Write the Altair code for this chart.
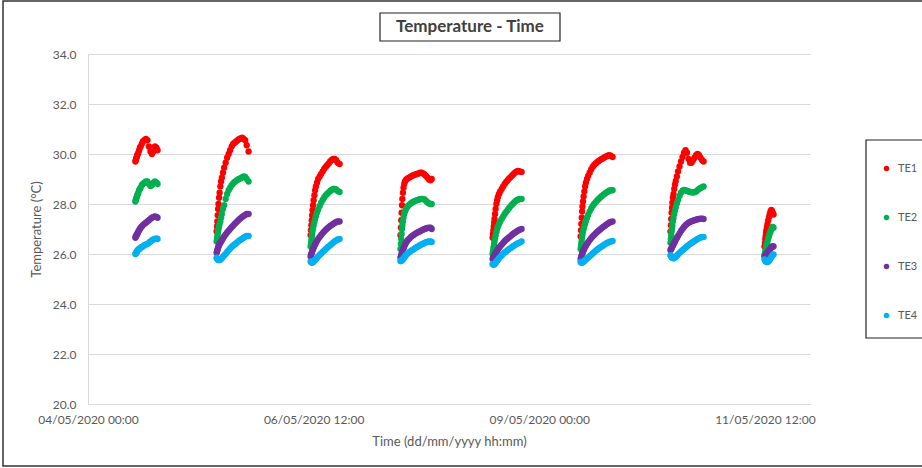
import altair as alt
import pandas as pd

# ---------------- data (hours since 04/05/2020 00:00) ----------------
HOURS = [
    12.6,12.7,12.8,12.9,13.0,13.1,13.25,13.4,13.6,13.8,14.0,14.3,14.6,15.0,15.4,15.8,16.2,16.6,17.0,17.4,17.8,18.2,18.5,
    34.2,34.3,34.4,34.5,34.6,34.7,34.85,35.0,35.2,35.4,35.6,35.9,36.2,36.6,37.0,37.4,37.8,38.2,38.6,39.0,39.4,39.8,40.2,40.6,41.0,41.4,41.8,42.2,42.7,
    59.2,59.3,59.4,59.5,59.6,59.7,59.85,60.0,60.2,60.4,60.6,60.9,61.2,61.6,62.0,62.4,62.8,63.2,63.6,64.0,64.4,64.8,65.2,65.6,66.0,66.4,66.9,
    83.1,83.2,83.3,83.4,83.5,83.6,83.75,83.9,84.1,84.3,84.5,84.8,85.1,85.5,85.9,86.3,86.7,87.1,87.5,87.9,88.3,88.7,89.1,89.5,89.9,90.3,90.7,91.1,91.4,
    107.6,107.7,107.8,107.9,108.0,108.1,108.25,108.4,108.6,108.8,109.0,109.3,109.6,110.0,110.4,110.8,111.2,111.6,112.0,112.4,112.8,113.2,113.6,114.0,114.4,114.8,115.3,
    131.0,131.1,131.2,131.3,131.4,131.5,131.65,131.8,132.0,132.2,132.4,132.7,133.0,133.4,133.8,134.2,134.6,135.0,135.4,135.8,136.2,136.6,137.0,137.4,137.8,138.2,138.6,139.0,139.5,
    154.9,155.0,155.1,155.2,155.3,155.4,155.55,155.7,155.9,156.1,156.3,156.6,156.9,157.3,157.7,158.1,158.5,158.9,159.3,159.7,160.1,160.5,160.9,161.3,161.7,162.1,162.5,162.9,163.3,163.7,
    179.9,180.0,180.1,180.2,180.3,180.4,180.55,180.7,180.9,181.1,181.3,181.5,181.7,181.9,182.1,182.3,
]

TE1 = [
    29.7,29.75,29.8,29.85,29.9,29.95,30.0,30.05,30.15,30.25,30.3,30.4,30.5,30.55,30.6,30.55,30.3,30.1,30.0,30.1,30.3,30.25,30.15,
    26.9,27.1,27.3,27.55,27.8,28.0,28.25,28.45,28.7,28.9,29.05,29.25,29.45,29.65,29.85,30.0,30.15,30.3,30.4,30.45,30.5,30.55,30.6,30.62,30.65,30.6,30.55,30.35,30.1,
    26.75,26.95,27.15,27.35,27.55,27.75,27.95,28.15,28.35,28.55,28.7,28.85,29.0,29.1,29.2,29.3,29.4,29.48,29.55,29.62,29.7,29.76,29.8,29.8,29.75,29.65,29.6,
    26.75,27.05,27.35,27.65,27.95,28.2,28.45,28.65,28.8,28.9,28.95,29.0,29.03,29.06,29.1,29.13,29.16,29.18,29.2,29.22,29.25,29.25,29.22,29.18,29.12,29.05,28.98,28.95,29.0,
    26.65,26.8,26.95,27.1,27.25,27.4,27.6,27.8,28.0,28.15,28.28,28.4,28.5,28.6,28.7,28.8,28.88,28.95,29.02,29.08,29.14,29.2,29.26,29.3,29.32,29.3,29.28,
    26.7,26.95,27.2,27.45,27.7,27.9,28.1,28.3,28.5,28.7,28.85,29.0,29.12,29.25,29.38,29.48,29.56,29.62,29.67,29.72,29.76,29.8,29.83,29.87,29.9,29.93,29.95,29.93,29.88,
    26.9,27.15,27.4,27.65,27.85,28.05,28.25,28.4,28.6,28.78,28.92,29.1,29.3,29.5,29.7,29.88,30.05,30.15,30.05,29.8,29.65,29.65,29.75,29.85,29.95,30.0,29.95,29.85,29.75,29.7,
    26.3,26.45,26.6,26.72,26.84,26.95,27.08,27.2,27.35,27.48,27.6,27.7,27.76,27.72,27.65,27.58,
]

TE2 = [
    28.1,28.15,28.2,28.25,28.3,28.35,28.4,28.45,28.55,28.6,28.65,28.75,28.8,28.85,28.9,28.9,28.8,28.72,28.75,28.85,28.9,28.85,28.8,
    26.5,26.6,26.7,26.8,26.9,27.0,27.1,27.2,27.3,27.45,27.6,27.8,27.95,28.2,28.4,28.55,28.65,28.75,28.82,28.88,28.93,28.97,29.0,29.03,29.07,29.1,29.08,29.0,28.9,
    26.3,26.42,26.54,26.66,26.78,26.9,27.02,27.14,27.27,27.4,27.52,27.66,27.78,27.92,28.05,28.16,28.26,28.34,28.4,28.46,28.52,28.56,28.6,28.6,28.58,28.52,28.48,
    26.2,26.4,26.6,26.8,27.0,27.15,27.3,27.45,27.6,27.7,27.78,27.86,27.92,27.98,28.03,28.07,28.1,28.13,28.15,28.17,28.19,28.2,28.2,28.18,28.12,28.06,28.02,28.0,28.0,
    26.0,26.1,26.2,26.3,26.4,26.5,26.62,26.74,26.88,27.0,27.1,27.2,27.3,27.4,27.5,27.6,27.68,27.76,27.84,27.92,27.98,28.04,28.1,28.15,28.18,28.2,28.2,
    26.2,26.32,26.44,26.56,26.68,26.78,26.9,27.0,27.12,27.22,27.32,27.45,27.56,27.7,27.82,27.92,28.0,28.07,28.14,28.2,28.26,28.31,28.36,28.41,28.45,28.49,28.53,28.55,28.55,
    26.45,26.6,26.75,26.9,27.02,27.14,27.3,27.44,27.6,27.74,27.86,28.02,28.16,28.32,28.45,28.53,28.56,28.55,28.52,28.5,28.48,28.47,28.46,28.47,28.5,28.55,28.6,28.64,28.67,28.7,
    25.95,26.02,26.1,26.18,26.25,26.32,26.42,26.5,26.62,26.72,26.82,26.9,26.98,27.04,27.08,27.05,
]

TE3 = [
    26.65,26.7,26.72,26.75,26.78,26.8,26.85,26.9,26.95,27.0,27.05,27.1,27.15,27.2,27.25,27.3,27.35,27.4,27.45,27.48,27.5,27.48,27.45,
    26.05,26.1,26.15,26.2,26.25,26.3,26.35,26.4,26.45,26.5,26.55,26.62,26.7,26.78,26.86,26.93,27.0,27.07,27.13,27.2,27.26,27.32,27.38,27.43,27.48,27.52,27.56,27.6,27.6,
    25.9,25.95,26.0,26.05,26.1,26.14,26.2,26.25,26.32,26.38,26.44,26.52,26.6,26.68,26.76,26.83,26.9,26.96,27.02,27.07,27.12,27.16,27.2,27.24,27.28,27.3,27.3,
    25.85,25.9,25.95,26.0,26.05,26.1,26.16,26.22,26.3,26.37,26.43,26.5,26.56,26.62,26.68,26.73,26.77,26.81,26.85,26.88,26.91,26.94,26.97,27.0,27.02,27.04,27.05,27.05,27.0,
    25.8,25.83,25.86,25.89,25.92,25.95,25.99,26.03,26.08,26.13,26.18,26.24,26.3,26.37,26.44,26.51,26.57,26.62,26.67,26.72,26.77,26.82,26.86,26.9,26.94,26.97,27.0,
    25.8,25.85,25.9,25.95,26.0,26.04,26.1,26.15,26.22,26.28,26.33,26.4,26.47,26.55,26.63,26.7,26.76,26.82,26.88,26.93,26.98,27.03,27.08,27.12,27.17,27.21,27.25,27.28,27.3,
    26.15,26.18,26.21,26.24,26.27,26.3,26.34,26.38,26.44,26.5,26.56,26.64,26.72,26.82,26.92,27.0,27.08,27.15,27.2,27.25,27.28,27.31,27.33,27.35,27.37,27.39,27.4,27.41,27.41,27.4,
    25.9,25.92,25.94,25.96,25.98,26.0,26.03,26.06,26.1,26.14,26.18,26.22,26.26,26.29,26.31,26.3,
]

TE4 = [
    26.0,26.02,26.05,26.07,26.1,26.12,26.15,26.18,26.2,26.22,26.25,26.28,26.3,26.35,26.38,26.4,26.45,26.5,26.55,26.58,26.6,26.62,26.6,
    25.85,25.82,25.8,25.78,25.77,25.76,25.76,25.77,25.78,25.8,25.83,25.88,25.94,26.0,26.08,26.15,26.22,26.28,26.34,26.38,26.43,26.48,26.53,26.57,26.61,26.65,26.69,26.72,26.72,
    25.7,25.68,25.67,25.66,25.66,25.67,25.68,25.7,25.73,25.76,25.8,25.85,25.9,25.96,26.02,26.08,26.13,26.19,26.25,26.3,26.35,26.4,26.45,26.5,26.54,26.58,26.6,
    25.72,25.72,25.73,25.74,25.75,25.77,25.79,25.82,25.86,25.9,25.94,25.99,26.03,26.08,26.12,26.16,26.2,26.24,26.28,26.31,26.35,26.38,26.41,26.44,26.47,26.49,26.5,26.5,26.48,
    25.6,25.59,25.58,25.58,25.59,25.6,25.62,25.65,25.69,25.73,25.77,25.83,25.88,25.94,26.0,26.06,26.1,26.15,26.2,26.24,26.28,26.32,26.36,26.4,26.43,26.46,26.5,
    25.68,25.67,25.66,25.66,25.66,25.67,25.68,25.7,25.72,25.75,25.78,25.82,25.86,25.91,25.96,26.02,26.07,26.12,26.17,26.22,26.26,26.3,26.34,26.38,26.42,26.45,26.48,26.5,26.52,
    25.95,25.92,25.9,25.88,25.86,25.85,25.84,25.83,25.84,25.86,25.89,25.93,25.98,26.04,26.1,26.15,26.2,26.25,26.3,26.35,26.4,26.44,26.48,26.52,26.56,26.6,26.63,26.66,26.68,26.68,
    25.78,25.76,25.74,25.72,25.7,25.69,25.68,25.68,25.7,25.73,25.77,25.82,25.87,25.92,25.96,25.98,
]

SERIES = ["TE1", "TE2", "TE3", "TE4"]
COLORS = ["#FF0000", "#00B050", "#7030A0", "#00B0F0"]
Y_TICKS = [20, 22, 24, 26, 28, 30, 32, 34]
X_TICKS = ["2020-05-04T00:00:00", "2020-05-06T12:00:00", "2020-05-09T00:00:00", "2020-05-11T12:00:00"]
X_DOMAIN = ["2020-05-04T00:00:00", "2020-05-12T00:00:00"]

# ---------------- table ----------------
start = pd.Timestamp("2020-05-04 00:00:00")
times = [(start + pd.to_timedelta(h, unit="h")).strftime("%Y-%m-%dT%H:%M:%S") for h in HOURS]
rows = []
for name, vals in zip(SERIES, [TE1, TE2, TE3, TE4]):
    for t, v in zip(times, vals):
        rows.append({"time": t, "temp": v, "series": name})
df = pd.DataFrame(rows)

FONT = "Lato"
GREY = "#595959"

def to_dt(s):
    ts = pd.Timestamp(s)
    return alt.DateTime(year=ts.year, month=ts.month, date=ts.day, hours=ts.hour, minutes=ts.minute)

points = alt.Chart(df).mark_circle(size=40, opacity=1).encode(
    x=alt.X("time:T",
            scale=alt.Scale(domain=[to_dt(d) for d in X_DOMAIN]),
            axis=alt.Axis(values=[to_dt(d) for d in X_TICKS], format="%d/%m/%Y %H:%M",
                          title="Time (dd/mm/yyyy hh:mm)", grid=False, ticks=False,
                          domainColor="#D9D9D9", labelPadding=10, titlePadding=10,
                          labelFlush=False, labelOverlap=False)),
    y=alt.Y("temp:Q",
            scale=alt.Scale(domain=[20, 34], nice=False, zero=False),
            axis=alt.Axis(values=Y_TICKS, format=".1f", title="Temperature (°C)",
                          gridColor="#D9D9D9", ticks=False, domainColor="#D9D9D9",
                          labelPadding=12, titlePadding=9)),
    color=alt.Color("series:N", scale=alt.Scale(domain=SERIES, range=COLORS),
                    legend=alt.Legend(title=None, orient="none", legendX=793, legendY=109,
                                      symbolType="circle", symbolSize=30, labelFontSize=11,
                                      labelColor=GREY, labelFont=FONT, rowPadding=37,
                                      labelOffset=6, padding=0)),
)

one = pd.DataFrame({"k": [0]})

outer = alt.Chart(one).mark_rect(fillOpacity=0, stroke="#333333", strokeWidth=1.5).encode(
    x=alt.value(-85), x2=alt.value(836), y=alt.value(-53), y2=alt.value(412))

title_box = alt.Chart(one).mark_rect(fillOpacity=0, stroke="#222222", strokeWidth=1.2).encode(
    x=alt.value(292), x2=alt.value(472), y=alt.value(-41), y2=alt.value(-13))

title_text = alt.Chart(one).mark_text(font=FONT, fontSize=17, fontWeight="bold",
                                      color="#404040", align="center", baseline="middle").encode(
    x=alt.value(382), y=alt.value(-27), text=alt.value("Temperature - Time"))

legend_box = alt.Chart(one).mark_rect(fillOpacity=0, stroke="#222222", strokeWidth=1.2).encode(
    x=alt.value(778), x2=alt.value(840), y=alt.value(86), y2=alt.value(284))

chart = alt.layer(points, outer, title_box, title_text, legend_box).properties(
    width=722, height=350,
    autosize=alt.AutoSizeParams(type="none"),
    padding={"left": 88, "top": 54, "right": 112, "bottom": 64},
    background="white",
).configure_axis(
    labelFont=FONT, titleFont=FONT, labelFontSize=12, titleFontSize=13,
    labelColor=GREY, titleColor=GREY, titleFontWeight="normal",
).configure_view(stroke=None)

chart.save("out.html", embed_options={"renderer": "svg", "actions": False})
